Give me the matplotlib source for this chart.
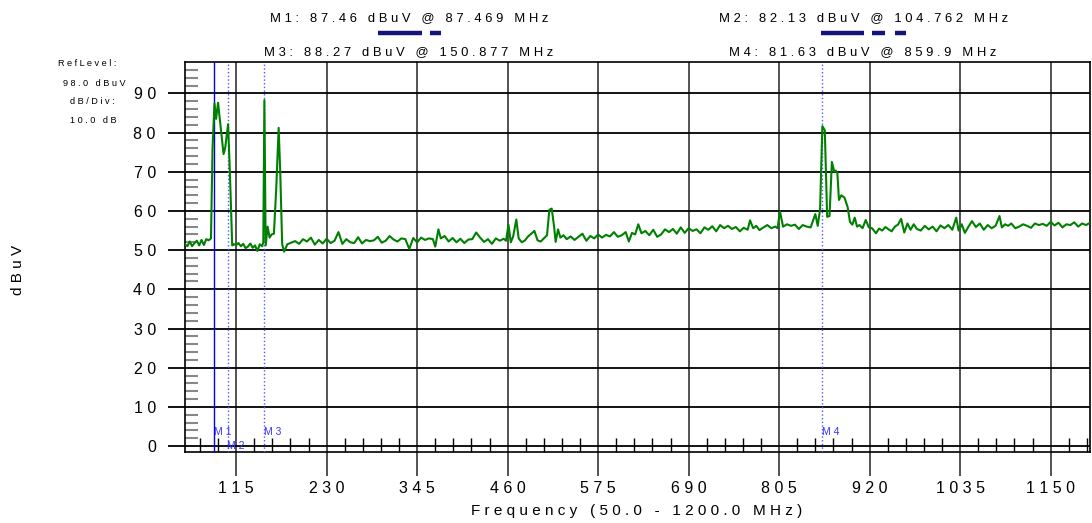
import numpy as np
import matplotlib
matplotlib.use("Agg")
import matplotlib.pyplot as plt
from matplotlib.lines import Line2D

plt.rcParams['font.family'] = ['Liberation Sans', 'DejaVu Sans']

#### data ####
freq = [50, 53, 56, 59, 62, 65, 68, 71, 74, 77, 80, 83, 85, 87.469, 89.5, 92, 95, 99, 101,
        104.762, 107, 110, 112, 115, 118, 121, 124, 127, 130, 133, 136, 139, 142, 145, 148,
        149.5, 150.877, 152.5, 155, 157.5, 160, 163, 166, 169, 171, 173.5, 176, 180,
        185, 190, 195, 200, 205, 210, 215, 220, 225, 230, 235, 240, 245, 250, 255, 260,
        265, 270, 275, 280, 285, 290, 295, 300, 305, 310, 315, 320, 325, 330, 335, 340,
        345, 350, 355, 360, 365, 368, 372, 375, 380, 385, 390, 395, 400, 405, 410, 415,
        420, 425, 430, 435, 440, 445, 450, 455, 458, 461, 464, 467, 471, 474, 478, 482,
        486, 490, 494, 498, 502, 506, 510, 513, 516, 519, 521, 524, 527, 531, 535, 540,
        545, 550, 555, 560, 565, 570, 575, 580, 585, 590, 595, 600, 605, 610, 614, 618,
        622, 626, 630, 635, 640, 645, 650, 655, 660, 665, 670, 675, 680, 685, 690, 695,
        700, 705, 710, 715, 720, 725, 730, 735, 740, 745, 750, 755, 760, 765, 768, 772,
        776, 780, 785, 790, 795, 800, 803, 806, 810, 815, 820, 825, 830, 835, 840, 845,
        848, 851, 854, 857, 859.9, 863, 866, 869, 872, 875, 877, 879, 881, 884, 888, 892,
        895, 898, 901, 904, 907, 911, 915, 919, 923, 928, 932, 936, 940, 944, 948, 952,
        956, 960, 964, 968, 972, 976, 980, 985, 990, 995, 1000, 1005, 1010, 1015, 1020,
        1025, 1030, 1033, 1037, 1041, 1045, 1050, 1055, 1060, 1065, 1070, 1075, 1080,
        1085, 1088, 1092, 1096, 1100, 1105, 1110, 1115, 1120, 1125, 1130, 1135, 1140,
        1145, 1150, 1155, 1160, 1165, 1170, 1175, 1180, 1185, 1190, 1195, 1200]
level = [51.5, 51.0, 52.2, 51.0, 51.8, 52.4, 51.2, 52.6, 51.3, 52.8, 52.5, 53.0, 76.0, 87.46,
         83.5, 87.6, 82.0, 74.5, 76.0, 82.13, 70.0, 51.2, 51.5, 51.3, 51.8, 51.0, 51.6, 50.5,
         50.9, 51.7, 50.6, 51.2, 49.8, 51.5, 51.0, 52.0, 88.27, 51.2, 56.0, 53.2, 54.0,
         54.2, 66.0, 81.2, 70.0, 51.5, 49.6, 51.5,
         51.9, 52.3, 51.6, 52.8, 52.2, 53.2, 51.4, 52.6, 51.7, 52.9, 51.8, 52.4, 54.6, 51.6,
         52.8, 52.0, 51.8, 53.3, 51.7, 52.6, 52.3, 52.5, 53.4, 51.9, 52.4, 53.6, 52.7, 52.2,
         53.0, 52.8, 50.3, 53.1, 52.0, 53.2, 52.6, 53.0, 52.8, 50.9, 55.3, 53.0, 53.6, 52.2,
         53.1, 52.0, 52.9, 51.8, 52.7, 52.8, 54.5, 53.2, 52.1, 52.8, 51.6, 53.0, 52.4, 52.9,
         52.4, 56.5, 52.0, 53.5, 57.8, 53.0, 52.0, 52.5, 53.5, 54.2, 54.9, 52.5, 52.2, 53.0,
         53.8, 60.3, 60.6, 56.0, 52.1, 55.3, 53.2, 53.8, 52.8, 53.5,
         52.6, 53.4, 54.2, 52.4, 53.6, 53.0, 54.0, 53.2, 53.9, 53.5, 54.6, 53.4, 53.8, 54.6,
         52.2, 54.4, 54.0, 56.6, 54.3, 54.9, 53.8, 55.2, 53.4, 54.0, 55.3, 54.6, 55.4, 54.2,
         55.8, 54.4, 55.6, 54.9, 55.3, 54.3, 55.8, 55.2, 56.1, 54.8, 56.4, 55.6, 56.2, 55.4,
         55.9, 54.8, 55.7, 55.2, 57.6, 55.6, 56.2, 55.1, 55.8, 56.4, 55.6, 56.0, 55.6, 59.9,
         56.0, 56.6, 56.2, 56.5, 55.4, 56.4, 56.0, 55.8, 57.5, 59.2, 56.2, 60.4, 81.63, 80.6,
         58.5, 58.7, 72.5, 70.0, 70.3, 69.6, 62.8, 64.0, 63.4, 61.0, 57.2, 56.5, 58.3, 56.0,
         56.4, 55.6, 57.7, 55.8, 55.6, 54.3, 55.5, 55.0, 55.9, 55.3, 54.8, 56.0, 56.5, 58.0,
         54.5, 56.8, 55.2, 56.6, 55.4, 55.0, 56.2, 55.3, 56.0, 54.8, 56.3, 55.6, 56.4, 55.2,
         58.3, 55.0, 56.6, 54.4, 55.8, 57.4, 55.9, 56.8, 55.2, 56.4, 55.6, 56.2, 58.7, 55.8,
         56.6, 56.2, 56.8, 55.6, 56.0, 56.6, 56.2, 55.7, 56.8, 56.4, 56.7, 56.2, 57.2, 56.3,
         57.0, 55.8, 56.6, 56.4, 57.1, 56.0, 56.8, 56.4, 57.0]

marker_names = ['M1', 'M2', 'M3', 'M4']
marker_freq = [87.469, 104.762, 150.877, 859.9]
marker_level = [87.46, 82.13, 88.27, 81.63]

x_ticks = [115, 230, 345, 460, 575, 690, 805, 920, 1035, 1150]
y_ticks = [0, 10, 20, 30, 40, 50, 60, 70, 80, 90]
########################################


def spaced(s):
    return ' '.join(s)


W, H = 1092, 523
fig = plt.figure(figsize=(W / 100, H / 100), dpi=100)
ax = fig.add_axes([185 / W, 1 - 452 / H, 905 / W, 390 / H])

ax.plot(freq, level, color='#008000', lw=1.5, zorder=5)

# marker lines
for i, (name, f) in enumerate(zip(marker_names, marker_freq)):
    if i == 0:
        ax.axvline(f, color='#0000e0', lw=1.0, zorder=4)
    else:
        ax.axvline(f, color='#5555ff', lw=1.0, ls=':', zorder=4)
    ty = 0.1 if i == 1 else 3.5
    ax.text(f - 1, ty, spaced(name), color='#3333ff', fontsize=7.5, ha='left', va='center', zorder=6)

ax.set_xlim(50, 1200)
ax.set_ylim(-1.5, 98)
ax.set_xticks(x_ticks)
ax.set_xticklabels([spaced(str(v)) for v in x_ticks], fontsize=11.5)
ax.set_yticks(y_ticks)
ax.set_yticklabels([spaced(str(v)) for v in y_ticks], fontsize=11.5)
ax.set_xticks(np.arange(69, 1200, 23), minor=True)
ax.set_yticks(np.arange(0, 98, 2), minor=True)

ax.grid(True, which='major', axis='x', color='#444444', lw=1.3)
ax.grid(True, which='major', axis='y', color='black', lw=1.3)
ax.tick_params(axis='x', which='major', direction='out', length=17, width=1.3, color='#444444', pad=4)
ax.tick_params(axis='y', which='major', direction='out', length=12, width=1.3, color='black', pad=9)
ax.tick_params(axis='x', which='minor', direction='in', length=10, width=1.0, color='black')
ax.tick_params(axis='y', which='minor', direction='in', length=9, width=1.5, color='#888888')
for sp in ax.spines.values():
    sp.set_color('black')
    sp.set_linewidth(1.2)

fig.text(637 / W, 1 - 511 / H, spaced('Frequency (50.0 - 1200.0 MHz)'), fontsize=11,
         ha='center', va='center')
fig.text(18 / W, 1 - 270 / H, spaced('dBuV'), rotation=90, fontsize=11, ha='center', va='center')

# marker readouts at the top
pos = [(409, 18), (864, 18), (409, 52), (863, 52)]
for (px, py), name, f, lv in zip(pos, marker_names, marker_freq, marker_level):
    ftxt = ('%.3f' % f).rstrip('0').rstrip('.') if f > 800 else '%.3f' % f
    txt = '%s: %.2f dBuV @ %s MHz' % (name, lv, ftxt)
    fig.text(px / W, 1 - py / H, spaced(txt), fontsize=9.4, ha='center', va='center')

navy = '#14147a'
for x0, x1 in [(378, 422), (430, 441), (821, 864), (872, 885), (895, 906)]:
    fig.add_artist(Line2D([x0 / W, x1 / W], [1 - 33 / H] * 2, color=navy, lw=3.2,
                          solid_capstyle='butt'))

# reference level info
for txt, px, py in [('RefLevel:', 87, 64), ('98.0 dBuV', 94, 83), ('dB/Div:', 92, 102),
                    ('10.0 dB', 93, 121)]:
    fig.text(px / W, 1 - py / H, spaced(txt), fontsize=6.6, ha='center', va='center')

plt.savefig('out.png', dpi=100)
